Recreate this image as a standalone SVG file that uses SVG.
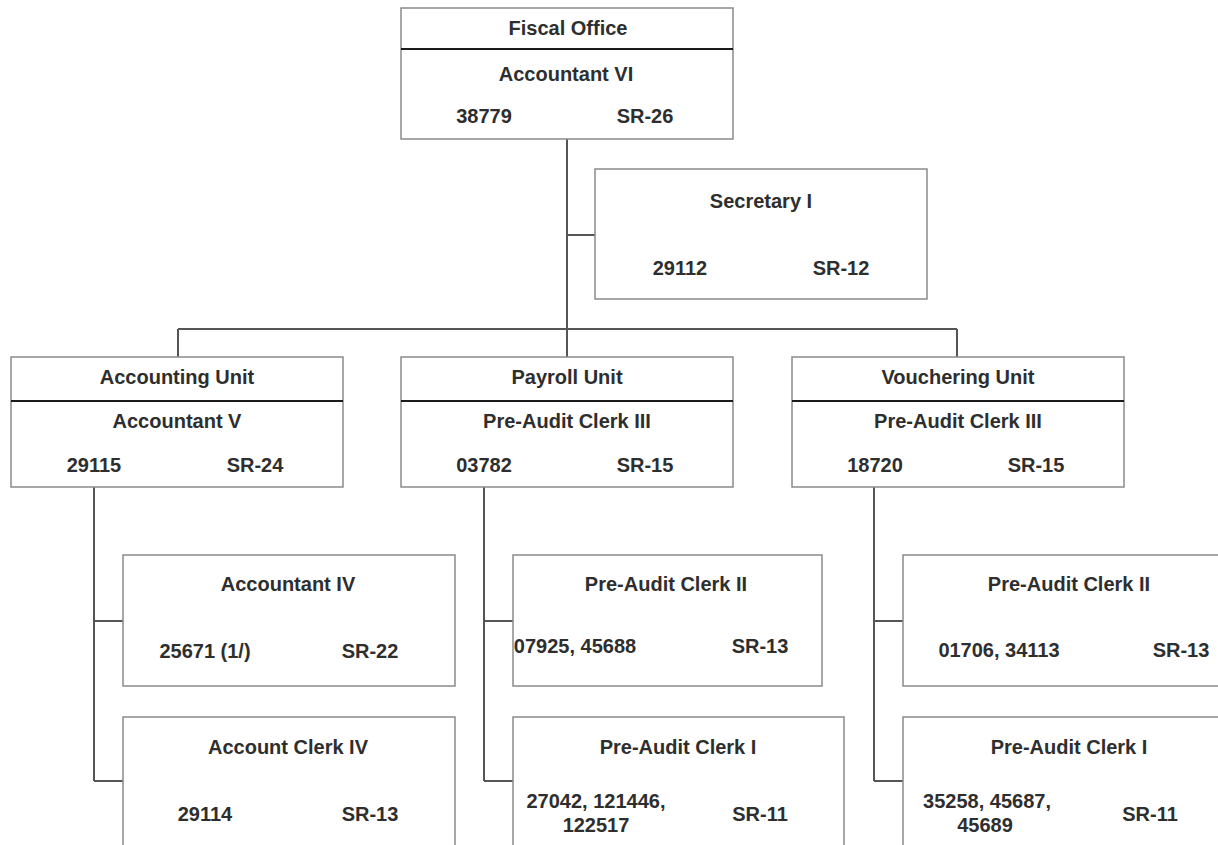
<svg xmlns="http://www.w3.org/2000/svg" width="1218" height="845" viewBox="0 0 1218 845">
<style>
.box{fill:#ffffff;stroke:#8a8a8a;stroke-width:1.5}
.div{stroke:#1a1a1a;stroke-width:2}
.con{fill:none;stroke:#555555;stroke-width:2}
text{font-family:"Liberation Sans",Arial,sans-serif;font-weight:bold;font-size:20px;fill:#2e2e2e;text-anchor:middle}
</style>
<rect width="1218" height="845" fill="#ffffff"/>
<g id="connectors">
<path class="con" d="M567 139 V329 M567 235 H595 M178 329 H957 M178 329 V357 M567 329 V357 M957 329 V357"/>
<path class="con" d="M94 487 V781 M94 621 H123 M94 781 H123"/>
<path class="con" d="M484 487 V781 M484 621 H513 M484 781 H513"/>
<path class="con" d="M874 487 V781 M874 621 H903 M874 781 H903"/>
</g>
<g id="fiscal-office">
<rect class="box" x="401" y="8" width="332" height="131"/>
<line class="div" x1="401" y1="49" x2="733" y2="49"/>
<text x="568" y="35">Fiscal Office</text>
<text x="566" y="81">Accountant VI</text>
<text x="484" y="123">38779</text>
<text x="645" y="123">SR-26</text>
</g>
<g id="secretary">
<rect class="box" x="595" y="169" width="332" height="130"/>
<text x="761" y="208">Secretary I</text>
<text x="680" y="275">29112</text>
<text x="841" y="275">SR-12</text>
</g>
<g id="accounting-unit">
<rect class="box" x="11" y="357" width="332" height="130"/>
<line class="div" x1="11" y1="401" x2="343" y2="401"/>
<text x="177" y="384">Accounting Unit</text>
<text x="177" y="428">Accountant V</text>
<text x="94" y="472">29115</text>
<text x="255" y="472">SR-24</text>
</g>
<g id="payroll-unit">
<rect class="box" x="401" y="357" width="332" height="130"/>
<line class="div" x1="401" y1="401" x2="733" y2="401"/>
<text x="567" y="384">Payroll Unit</text>
<text x="567" y="428">Pre-Audit Clerk III</text>
<text x="484" y="472">03782</text>
<text x="645" y="472">SR-15</text>
</g>
<g id="vouchering-unit">
<rect class="box" x="792" y="357" width="332" height="130"/>
<line class="div" x1="792" y1="401" x2="1124" y2="401"/>
<text x="958" y="384">Vouchering Unit</text>
<text x="958" y="428">Pre-Audit Clerk III</text>
<text x="875" y="472">18720</text>
<text x="1036" y="472">SR-15</text>
</g>
<g id="accountant-iv">
<rect class="box" x="123" y="555" width="332" height="131"/>
<text x="288" y="591">Accountant IV</text>
<text x="205" y="658">25671 (1/)</text>
<text x="370" y="658">SR-22</text>
</g>
<g id="account-clerk-iv">
<rect class="box" x="123" y="717" width="332" height="131"/>
<text x="288" y="754">Account Clerk IV</text>
<text x="205" y="821">29114</text>
<text x="370" y="821">SR-13</text>
</g>
<g id="payroll-clerk-ii">
<rect class="box" x="513" y="555" width="309" height="131"/>
<text x="666" y="591">Pre-Audit Clerk II</text>
<text x="575" y="653">07925, 45688</text>
<text x="760" y="653">SR-13</text>
</g>
<g id="payroll-clerk-i">
<rect class="box" x="513" y="717" width="331" height="131"/>
<text x="678" y="754">Pre-Audit Clerk I</text>
<text x="596" y="808">27042, 121446,</text>
<text x="596" y="832">122517</text>
<text x="760" y="821">SR-11</text>
</g>
<g id="vouchering-clerk-ii">
<rect class="box" x="903" y="555" width="332" height="131"/>
<text x="1069" y="591">Pre-Audit Clerk II</text>
<text x="999" y="657">01706, 34113</text>
<text x="1181" y="657">SR-13</text>
</g>
<g id="vouchering-clerk-i">
<rect class="box" x="903" y="717" width="332" height="131"/>
<text x="1069" y="754">Pre-Audit Clerk I</text>
<text x="987" y="808">35258, 45687,</text>
<text x="985" y="832">45689</text>
<text x="1150" y="821">SR-11</text>
</g>
</svg>
